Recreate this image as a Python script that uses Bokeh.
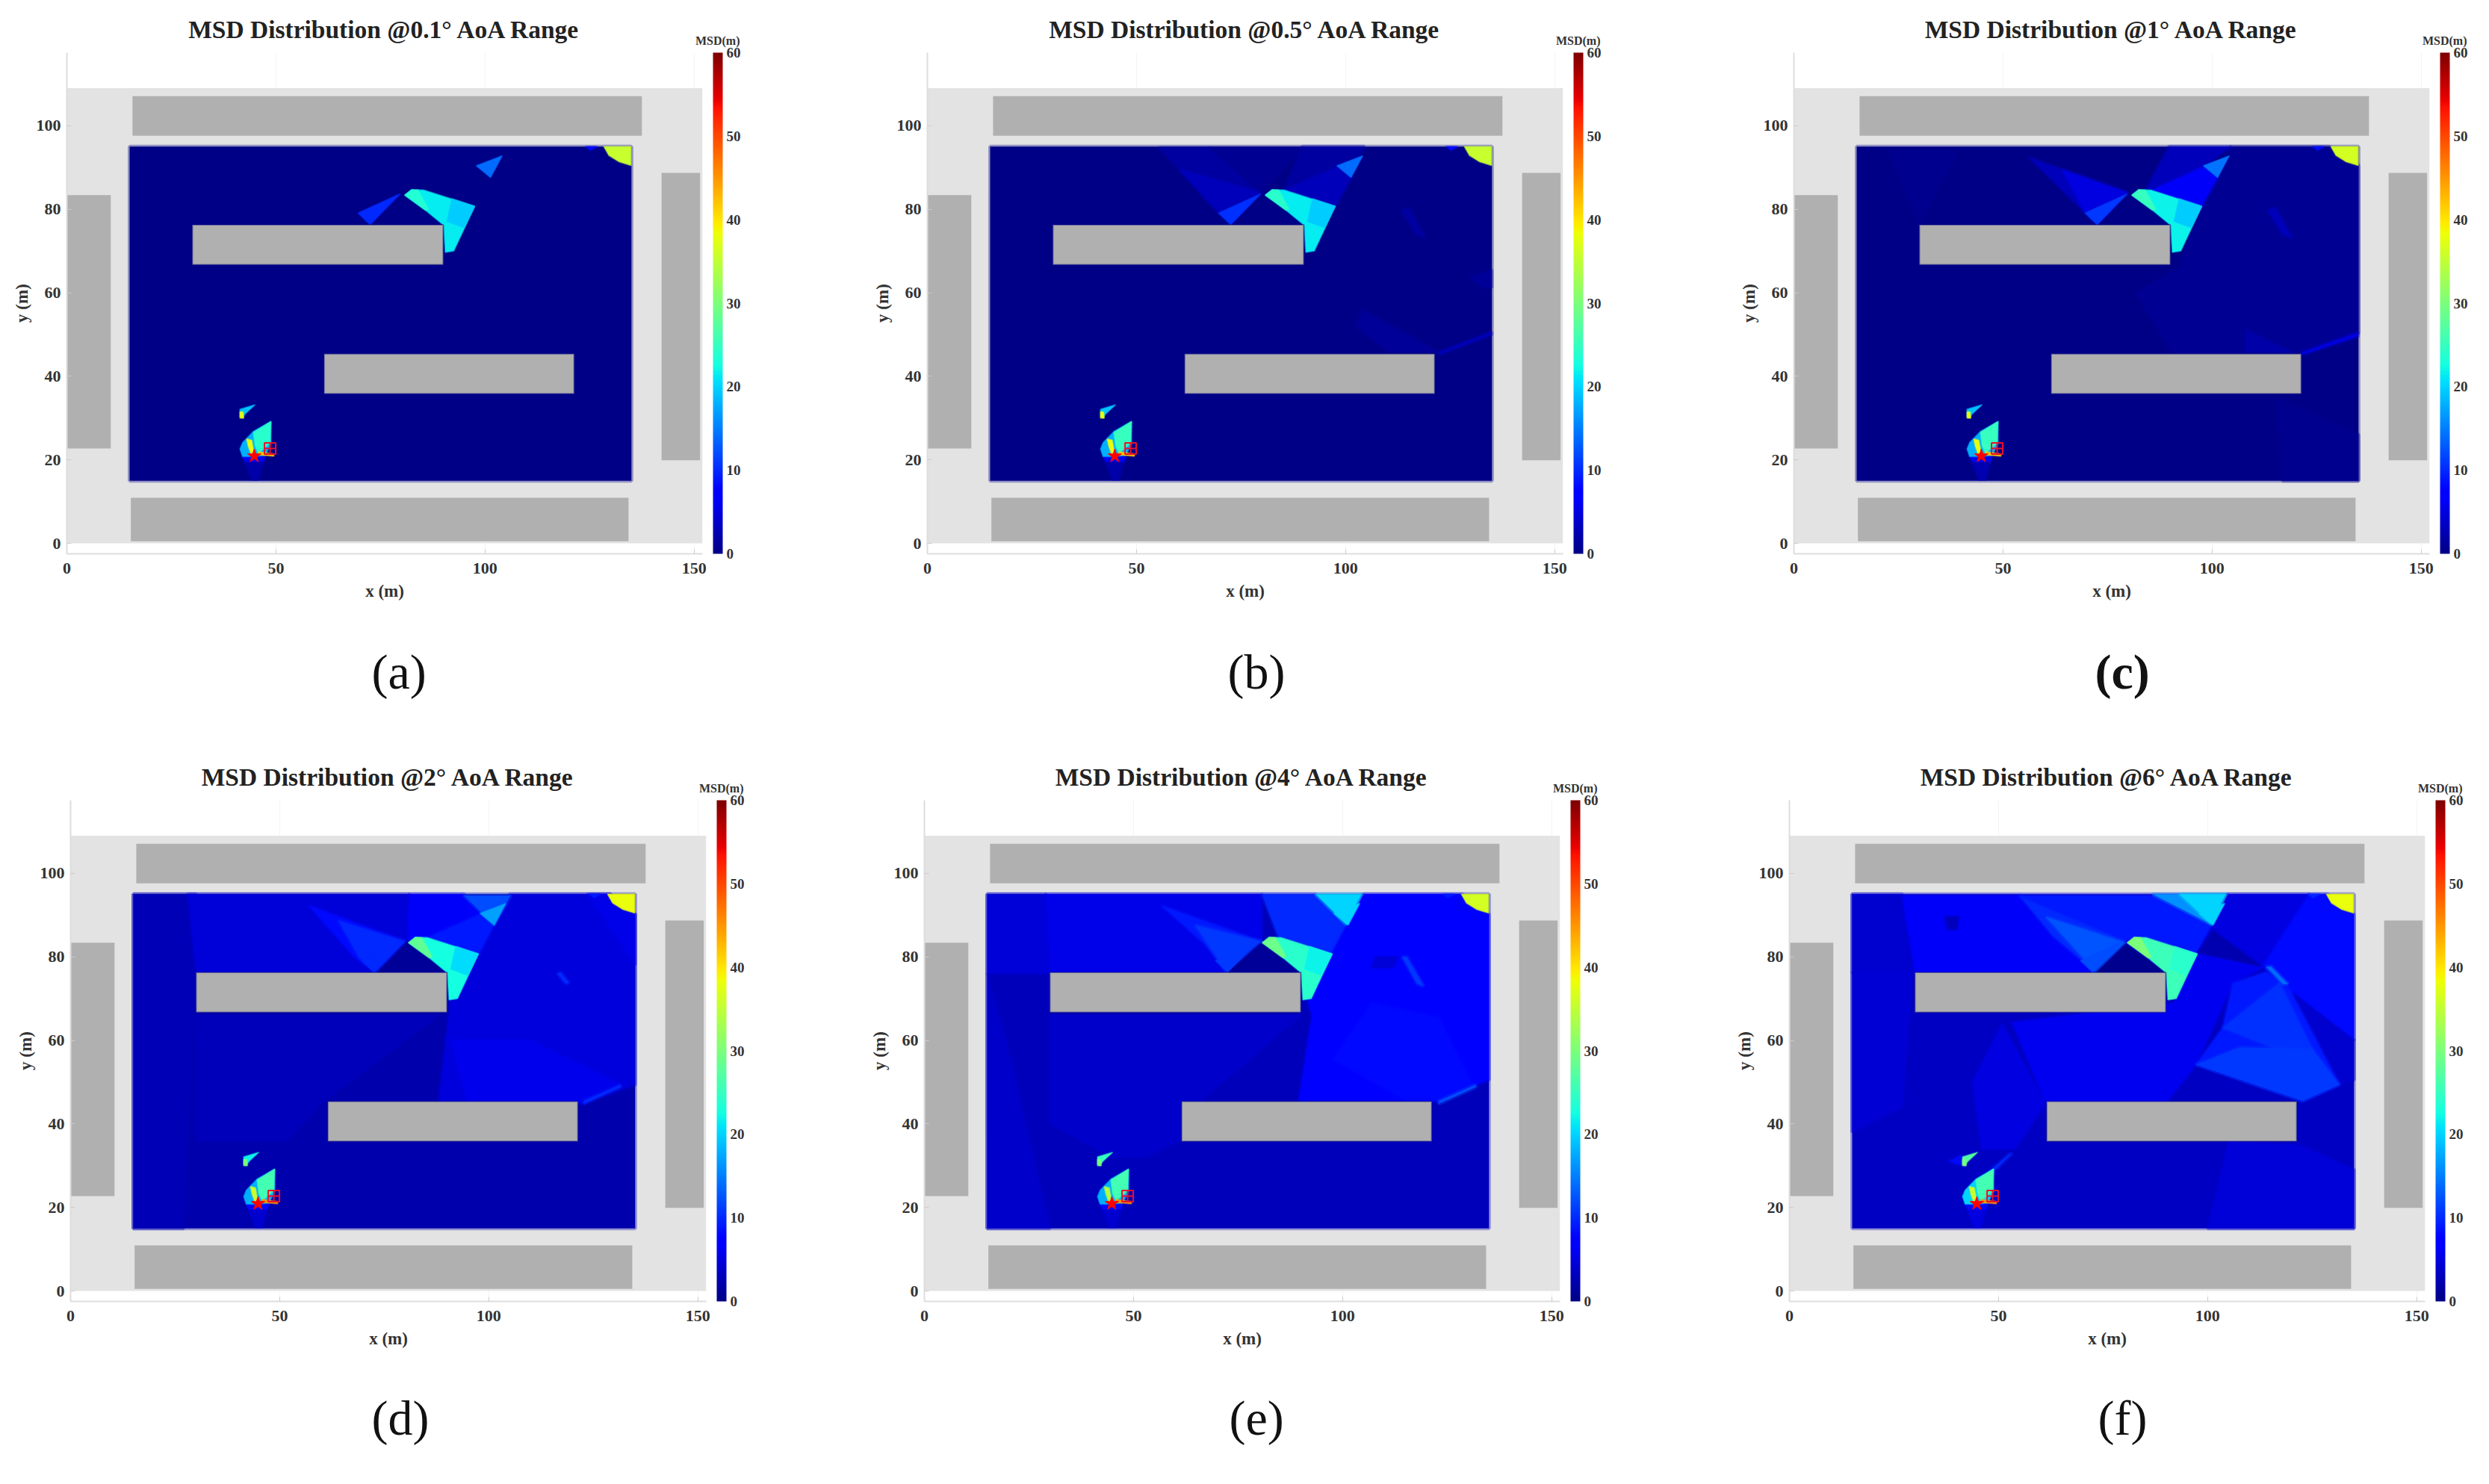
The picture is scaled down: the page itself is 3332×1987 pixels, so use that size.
from bokeh.embed import file_html
from bokeh.layouts import column, row
from bokeh.models import ColorBar, ColumnDataSource, FixedTicker, LinearColorMapper, Range1d, Title
from bokeh.plotting import figure
from bokeh.resources import INLINE
import numpy as np

titles = ["MSD Distribution @0.1\u00b0 AoA Range", "MSD Distribution @0.5\u00b0 AoA Range", "MSD Distribution @1\u00b0 AoA Range",
          "MSD Distribution @2\u00b0 AoA Range", "MSD Distribution @4\u00b0 AoA Range", "MSD Distribution @6\u00b0 AoA Range"]
captions = ["(a)", "(b)", "(c)", "(d)", "(e)", "(f)"]
x_ticks = [0, 50, 100, 150]
y_ticks = [0, 20, 40, 60, 80, 100]
cbar_ticks = [0, 10, 20, 30, 40, 50, 60]

# site and buildings, metres
site_x = [0, 152]
site_y = [0, 109]
field_x = [15, 135, 135, 15]
field_y = [15, 15, 95, 95]
bld_left = [15.7, 15.3, 0, 142.2]
bld_right = [137.5, 134.3, 10.5, 151.4]
bld_bottom = [97.6, 0.5, 22.7, 19.9]
bld_top = [107.1, 10.9, 83.4, 88.7]
inner_left = [30, 61.5]
inner_right = [90, 121.3]
inner_bottom = [66.7, 35.8]
inner_top = [76.3, 45.4]

anchor_x = [44.8]
anchor_y = [20.9]
sensor_x = [48.6]
sensor_y = [22.7]

# field level under everything else, per panel
base_vals = [0, 0, 0.2, 2.2, 3, 3.5]

# hot spots, the same shapes in every panel
hot_xs = [[42, 47.4, 45.8, 44.2], [42, 47.4, 47, 42.6], [124, 125.2, 126.8], [128.4, 129.6, 132, 134.9, 134.9],
          [104.1, 97.9, 101.3], [79.7, 69.6, 72.5],
          [80.8, 82.5, 85.3, 97.5, 92.5, 90.5, 90.1, 85.7], [92.1, 97.5, 94.9, 90.9], [80.8, 82.5, 84, 86.5, 85.7],
          [41.4, 45, 42.6, 42, 41.4], [41.4, 42.1, 42.3, 41.4],
          [48.8, 48.8, 47.4, 45, 42, 41.4, 42, 44.6], [48.8, 48.6, 45.8, 45, 44.6],
          [43, 44.2, 44.8, 44.2, 43.4], [45.8, 49.5, 49.5, 45.8]]
hot_ys = [[20.8, 20.8, 15.1, 15.1], [20.8, 20.8, 19.6, 19.6], [95, 94.1, 95], [95, 92.9, 91.4, 90.5, 95],
          [92.8, 90.4, 87.6], [83.7, 79.1, 76.3],
          [83.4, 84.7, 84.6, 80.7, 70, 69.7, 76.2, 79.8], [82.5, 80.7, 75.6, 77.1], [83.4, 84.7, 84.6, 80, 79.8],
          [32.1, 33.2, 31, 30, 30.3], [31.5, 31.5, 30, 30],
          [29.2, 23.8, 21.1, 20.8, 20.8, 22.6, 24.1, 26.8], [29.2, 24, 21.6, 23.4, 26.6],
          [25, 24.7, 21.3, 21, 23.2], [21.9, 21.4, 20.9, 21.2]]
hot_vals_a = [2, 6, 8, 35.5, 14, 10, 21.5, 19.5, 23.5, 19, 38, 18, 24, 38, 42]
hot_vals_b = [2, 6, 8, 35.5, 14, 10.5, 21.5, 19.5, 24, 19, 38, 18, 25, 38, 42]
hot_vals_c = [2.5, 6, 8, 36.5, 14.5, 11, 22, 19.5, 25, 19, 38, 18, 25, 38, 42]
hot_vals_d = [4, 8, 9, 38, 17, 10, 22.5, 20.5, 28, 22, 30, 18, 26, 36, 45]
hot_vals_e = [4, 8, 9, 36.5, 20, 11, 24, 22, 29, 25, 30, 18, 26, 34, 45]
hot_vals_f = [5, 8, 10, 38, 20, 12, 25.5, 24, 30, 27, 30, 20, 26, 36, 45]

# background regions of each panel, back to front
regions_a_xs = []
regions_a_ys = []
regions_a_vals = []

regions_b_xs = [[55.4, 67.4, 79.7, 72.5, 69.6], [60.2, 79.7, 69.6], [67.4, 89.7, 80.1], [89.7, 104.5, 101.3, 97.5, 85.3],
                [85.3, 98, 101.3, 97.5], [102.5, 104, 122.4, 110.5], [122.4, 134.9, 134.9, 122.4],
                [113.2, 115.2, 119.1, 116.8], [129.6, 134.9, 134.9, 132.8]]
regions_b_ys = [[94.7, 94.7, 84, 76.5, 79.2], [89.6, 84, 79.2], [94.7, 94.7, 84.3], [95, 95, 87.6, 80.7, 84.6],
                [84.6, 90.2, 87.6, 80.7], [51.8, 56, 45.8, 45.8], [45.8, 50.6, 50, 45.2],
                [79.8, 80.4, 73, 74.1], [63.7, 65.5, 61.3, 61.3]]
regions_b_vals = [1.5, 3, 0.8, 1.5, 3, 1, 3, 1.5, 1]

regions_c_xs = [[22.7, 39.4, 29.8], [104.5, 128, 135, 135, 121.6, 90.5, 81.7, 92.1, 96.9], [115.2, 135, 135, 116.8],
                [56.2, 79.7, 72.5, 69.6], [64.2, 79.7, 69.6], [89.7, 104.5, 98, 84.1], [85.3, 98, 101.3, 97.5],
                [113.2, 115.2, 119.1, 116.8], [121.6, 134.9, 134.9, 121.6], [108.1, 119.2, 108.1]]
regions_c_ys = [[94, 94, 76.7], [95, 95, 90.5, 50.4, 45.5, 45.5, 60, 66, 80.7], [35, 26, 15, 15],
                [92.4, 84, 76.5, 79.2], [89.4, 84, 79.2], [95, 95, 90.2, 84.6], [84.6, 90.2, 87.6, 80.7],
                [79.8, 80.4, 73, 74.1], [45.8, 50.5, 49.6, 45.2], [51, 45.8, 45.8]]
regions_c_vals = [0.6, 0.9, 0.5, 3, 5, 3, 6.5, 3, 5, 2]

regions_d_xs = [[15, 30, 30, 27, 15], [30, 88, 60, 52, 30], [28, 81, 80, 73, 30], [57, 80, 73, 68], [64, 80, 73, 69],
                [80.4, 73.3, 90], [105, 129, 135, 135, 122.7, 88, 90.8, 97.6], [91, 110, 131.5, 122.7, 95],
                [81, 94, 98.4, 85.2, 80.4], [85.2, 98.4, 101.2, 97.6], [94, 105.2, 101.2, 98.4],
                [123.5, 129, 135, 135], [116.4, 117.2, 119.2, 118.4], [122.7, 131.5, 131.5, 122.7]]
regions_d_ys = [[95, 95, 76, 15, 15], [66, 66, 45, 36, 36], [95, 95, 84, 76, 76], [92.3, 83.7, 76.3, 79.8], [88.7, 83.7, 76.3, 79.8],
                [83.4, 76.3, 76.3], [95, 95, 90.2, 49.4, 45, 45, 69.7, 80.7], [60, 60, 49.4, 45, 45],
                [95, 95, 90.4, 84.6, 84], [84.6, 90.4, 87.6, 80.7], [94.7, 94.7, 87.6, 90.4],
                [95, 95, 90.2, 78], [76, 76.3, 73.8, 73.5], [45.5, 49.4, 48.8, 44.8]]
regions_d_vals = [2.8, 3, 4.5, 8, 10, 1, 4.8, 5.8, 6.5, 9, 12, 5.5, 10, 10]

regions_e_xs = [[15, 29, 30, 15], [15, 20, 30, 15], [30, 90, 65.5, 61.5, 52.7, 44.8, 30], [29, 80.7, 80.7, 72.3, 30],
                [56.7, 80.7, 72.3, 67.1], [64.7, 80.7, 72.3], [80.7, 72.3, 90], [80.7, 93.5, 101, 97.4, 84.7], [93.5, 105, 101],
                [105, 128.6, 135, 135, 123, 89.5, 92.7, 91.5, 97.4], [107, 123, 131, 123, 115.5, 97.8],
                [114.2, 115.4, 119.4, 117.8], [123, 131.8, 131.8, 123], [107.8, 113.4, 112, 107]]
regions_e_ys = [[95, 95, 76, 76], [76, 58, 15, 15], [66, 66, 45, 36, 32, 32, 40], [95, 95, 83.7, 76.3, 76.3],
                [92.3, 83.7, 76.3, 83], [87.6, 83.7, 76.3], [83.4, 76.3, 76.3], [95, 95, 87.6, 80.7, 84.6], [95, 95, 87.6],
                [95, 95, 90.2, 50.6, 45.5, 45.5, 66, 69.7, 80.7], [69, 65.5, 49.4, 45.5, 45.5, 55.4],
                [80, 80, 73, 73.5], [45.5, 49.4, 48.8, 44.8], [80, 80, 77.4, 77.4]]
regions_e_vals = [4.5, 3.8, 3.8, 5.5, 9, 11, 1, 10, 20, 7, 8, 11, 12, 4.5]

regions_f_xs = [[15, 27, 29.4, 15], [15, 29.4, 27, 15], [27, 55, 80.4, 73.3, 30], [37.3, 40.5, 40, 37.7],
                [55, 80.4, 73.3, 63], [61.3, 80.4, 73.3], [55, 104.8, 101.2, 97.2, 84.4, 80.4], [86.8, 104.8, 101.2],
                [93.2, 104.8, 101.2], [80.4, 73.3, 90], [104.8, 124.3, 113.2, 97.6, 101.2], [101.2, 113.2, 108.4, 97.6],
                [124.3, 128.7, 135, 135, 122.7, 113.2], [120.3, 135, 135, 131.5],
                [92, 97.6, 113.2, 106, 97.2, 90, 61.3, 53.3], [114, 119.5, 131.5, 122.7, 97.2, 103.6, 106],
                [103.6, 117.2, 125, 116], [97.2, 107.6, 125, 131.5, 122.7], [114, 115.2, 119.2, 118],
                [43.7, 50.9, 61.3, 54, 46], [53.3, 48.5, 47.7, 52.5], [105, 122, 135, 135, 100], [38.1, 41, 42.1]]
regions_f_ys = [[95, 95, 76.3, 76.3], [76.3, 76.3, 44, 38], [94.7, 94.7, 83.4, 76.3, 76.3], [89.6, 89.6, 86.6, 86.6],
                [94.7, 84, 76.3, 85], [89.6, 83.4, 76.3], [94.7, 94.7, 87.6, 80.7, 84.6, 84], [95, 95, 87.6],
                [95, 95, 87.6], [83, 76.3, 76.3], [95, 95, 77.8, 80.7, 87.6], [86.4, 77.4, 77.4, 80.7],
                [95, 95, 90.2, 60, 69, 77.8], [71.4, 60, 50.6, 49.4],
                [69, 80.7, 77.4, 73.7, 54.2, 45, 45, 64.3], [76.4, 72.5, 49.4, 45.5, 54.2, 63, 73.7],
                [63, 73.8, 58, 58], [54.2, 58.3, 58, 49.4, 45.5], [77.6, 77.6, 73.5, 73.5],
                [50, 64, 45, 34, 34], [33, 28.3, 28.6, 32.7], [36, 35, 29, 15, 15], [31, 32.5, 29.9]]
regions_f_vals = [4, 4.3, 6.5, 3.2, 10, 12.5, 9, 16, 20, 0.5, 5, 2.5, 8, 4, 6, 9, 10.5, 11, 14, 5, 10, 4.5, 8]

# jet colormap, 256 steps
pos = np.linspace(0, 1, 256)
r = np.interp(pos, [0.35, 0.66, 0.89, 1], [0, 1, 1, 0.5])
g = np.interp(pos, [0.125, 0.375, 0.64, 0.91], [0, 1, 1, 0])
b = np.interp(pos, [0, 0.11, 0.34, 0.65], [0.53, 1, 1, 0])
jet = ["#%02x%02x%02x" % (int(i * 255), int(j * 255), int(k * 255)) for i, j, k in zip(r, g, b)]
mapper = LinearColorMapper(palette=jet, low=0, high=60)

SERIF = "Liberation Serif"
TEXT = "#333333"


def make_panel(i, xs, ys, vals, hot_vals, left, right, top, bottom, caption_offset, caption_standoff, caption_bold=False):
    p = figure(frame_width=851, frame_height=671, x_range=Range1d(0, 152), y_range=Range1d(-2.5, 117.5),
               min_border_left=left, min_border_right=right, min_border_top=top, min_border_bottom=bottom,
               output_backend="svg", toolbar_location=None, title=titles[i])
    p.outline_line_color = None
    p.title.align = "center"
    p.title.text_font = SERIF
    p.title.text_font_size = "33.5px"
    p.title.text_font_style = "bold"
    p.title.text_color = "#222222"
    # negative so it shares a band with the MSD(m) title below it in the stack
    p.title.standoff = -44

    p.xaxis.ticker = FixedTicker(ticks=x_ticks)
    p.yaxis.ticker = FixedTicker(ticks=y_ticks)
    p.xaxis.axis_label = "x (m)"
    p.yaxis.axis_label = "y (m)"
    for ax in [p.xaxis[0], p.yaxis[0]]:
        ax.axis_line_color = "#dddddd"
        ax.axis_line_width = 2
        ax.major_tick_line_color = "#cccccc"
        ax.major_tick_in = 6
        ax.major_tick_out = 0
        ax.minor_tick_line_color = None
        ax.major_label_text_font = SERIF
        ax.major_label_text_font_size = "22px"
        ax.major_label_text_font_style = "bold"
        ax.major_label_text_color = TEXT
        ax.axis_label_text_font = SERIF
        ax.axis_label_text_font_size = "23px"
        ax.axis_label_text_font_style = "bold"
        ax.axis_label_text_color = TEXT
    p.xaxis.major_label_standoff = 12
    p.xaxis.axis_label_standoff = 8
    p.yaxis.major_label_standoff = 8
    p.yaxis.axis_label_standoff = 4
    p.yaxis.major_label_orientation = "horizontal"
    p.xgrid.grid_line_color = "#f4f4f4"
    p.ygrid.visible = False

    p.quad(left=site_x[0], right=site_x[1], bottom=site_y[0], top=site_y[1], fill_color="#e3e3e3", line_color=None)

    fill = {"field": "v", "transform": mapper}
    back = ColumnDataSource(data=dict(xs=[field_x] + xs, ys=[field_y] + ys, v=[base_vals[i]] + vals))
    p.patches("xs", "ys", source=back, fill_color=fill, line_color=fill, line_width=5, line_alpha=0.35)
    front = ColumnDataSource(data=dict(xs=hot_xs, ys=hot_ys, v=hot_vals))
    p.patches("xs", "ys", source=front, fill_color=fill, line_color=fill, line_width=2, line_alpha=0.5)

    p.quad(left=bld_left, right=bld_right, bottom=bld_bottom, top=bld_top, fill_color="#b0b0b0", line_color=None)
    p.quad(left=inner_left, right=inner_right, bottom=inner_bottom, top=inner_top, fill_color="#b0b0b0",
           line_color="#000080", line_alpha=0.4, line_width=2)

    p.scatter(anchor_x, anchor_y, marker="star", size=19, fill_color="#ff0000", line_color="#ff0000")
    p.scatter(sensor_x, sensor_y, marker="square_cross", size=15, fill_color=None, line_color="#e8102a", line_width=2)

    cb = ColorBar(color_mapper=mapper, ticker=FixedTicker(ticks=cbar_ticks), width=13, height=671,
                  location=(14, 0), padding=0, margin=0, major_tick_line_color=None, bar_line_color=None,
                  major_label_text_font=SERIF, major_label_text_font_size="19px", major_label_text_font_style="bold",
                  major_label_text_color=TEXT, label_standoff=5)
    p.add_layout(cb, "right")

    # sits over the colour bar, right of the frame
    p.add_layout(Title(text="MSD(m)", align="right", offset=-50, standoff=16, text_font=SERIF, text_font_size="16px",
                       text_font_style="bold", text_color=TEXT), "above")
    p.add_layout(Title(text=captions[i], align="left", offset=caption_offset, standoff=caption_standoff, text_font=SERIF,
                       text_font_size="66px", text_font_style="bold" if caption_bold else "normal",
                       text_color="#111111"), "below")
    return p


pa = make_panel(0, regions_a_xs, regions_a_ys, regions_a_vals, hot_vals_a, 89, 220, 70, 268, 408, 108)
pb = make_panel(1, regions_b_xs, regions_b_ys, regions_b_vals, hot_vals_b, 81, 228, 70, 268, 402, 108)
pc = make_panel(2, regions_c_xs, regions_c_ys, regions_c_vals, hot_vals_c, 81, 70, 70, 268, 403, 108, True)
pd = make_panel(3, regions_d_xs, regions_d_ys, regions_d_vals, hot_vals_d, 94, 211, 62, 227, 403, 105)
pe = make_panel(4, regions_e_xs, regions_e_ys, regions_e_vals, hot_vals_e, 81, 226, 62, 227, 408, 105)
pf = make_panel(5, regions_f_xs, regions_f_ys, regions_f_vals, hot_vals_f, 81, 76, 62, 227, 413, 105)

page = column(row(pa, pb, pc), row(pd, pe, pf))
open("out.html", "w").write(file_html(page, INLINE))
